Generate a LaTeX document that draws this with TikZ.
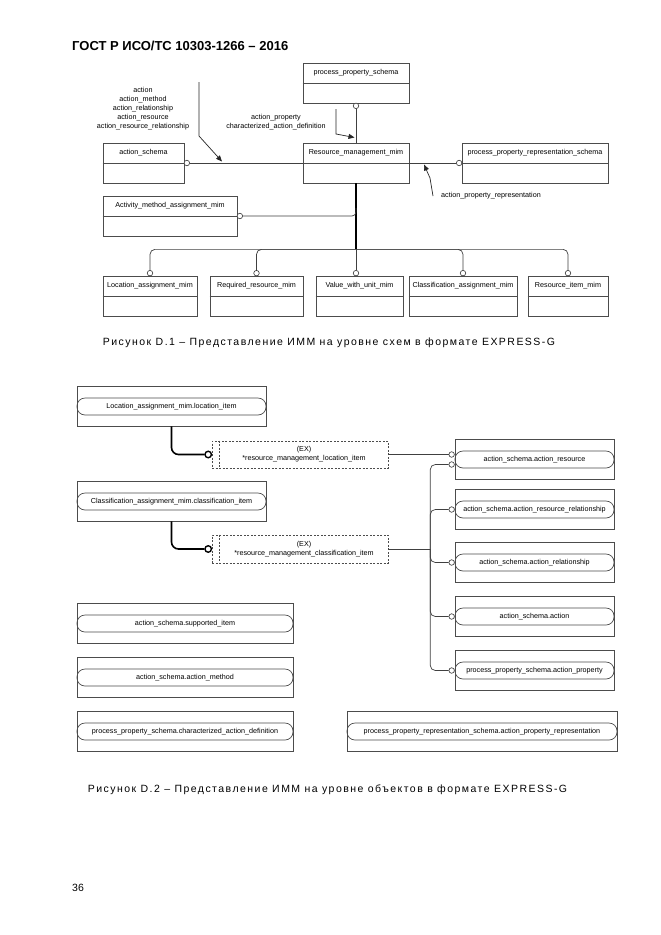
\documentclass[tikz,border=0pt]{standalone}
\usepackage{fontspec}
\setmainfont{Liberation Sans}
\newfontfamily\capfont[LetterSpace=14]{Liberation Sans}
\usetikzlibrary{fit,arrows.meta,calc}
\tikzset{
  lbl/.style={font=\fontsize{7.2}{9}\selectfont, inner sep=0},
  ebox/.style={draw=black!70, line width=0.7pt, inner sep=0},
  pill/.style={draw=black!70, line width=0.7pt, inner sep=0, rounded corners=8pt},
  exbox/.style={draw=black!70, dash pattern=on 2pt off 1.5pt, line width=0.6pt, inner sep=0},
  conn/.style={draw=black!75, line width=0.7pt},
  thk/.style={draw=black, line width=1.6pt},
  oc/.style={circle, draw=black!80, fill=white, line width=0.6pt, inner sep=0, minimum size=5.5pt},
  ocb/.style={circle, draw=black, fill=white, line width=1.4pt, inner sep=0, minimum size=6.5pt},
  ann/.style={draw=black!85, line width=0.7pt, -{Triangle[length=6pt,width=5pt]}},
  captxt/.style={font=\capfont\fontsize{10.5}{12}\selectfont, inner sep=0},
}
\newcommand\EBox[6]{%
  \node[ebox, fit={(#2,#3) (#4,#5)}] (#1) {};
  \draw[ebox] (#1.west) -- (#1.east);
  \node[lbl] (#1-t) at ($(#1.north)!0.5!(#1.center)$) {#6};}
\newcommand\OBox[6]{%
  \node[ebox, fit={(#2,#3) (#4,#5)}] (#1) {};
  \node[pill, fit={($(#2,#3)+(0,12)$) ($(#4,#3)+(0,29)$)}] (#1-p) {};
  \node[lbl] (#1-t) at (#1-p.center) {#6};}
\begin{document}
\begin{tikzpicture}[x=1pt,y=-1pt]
\useasboundingbox[fill=white] (0,0) rectangle (661,935);
% header
\node[anchor=west, font=\bfseries\fontsize{13}{15}\selectfont, inner sep=0] (hdr) at (72,46) {ГОСТ Р ИСО/ТС 10303-1266 – 2016};
% ===== Figure D.1
\EBox{pps}{303}{63}{409}{103}{process\_property\_schema}
\EBox{rm}{303}{143}{409}{183}{Resource\_management\_mim}
\EBox{pprs}{462}{143}{608}{183}{process\_property\_representation\_schema}
\EBox{as}{103}{143}{184}{183}{action\_schema}
\EBox{ama}{103}{196}{237}{236}{Activity\_method\_assignment\_mim}
\EBox{lam}{103}{276}{197}{316}{Location\_assignment\_mim}
\EBox{rrm}{210}{276}{303}{316}{Required\_resource\_mim}
\EBox{vwu}{316}{276}{403}{316}{Value\_with\_unit\_mim}
\EBox{cam}{409}{276}{517}{316}{Classification\_assignment\_mim}
\EBox{rim}{528}{276}{608}{316}{Resource\_item\_mim}

\node[oc] (c-as) at ([xshift=2.5pt]as.east) {};
\draw[conn] (c-as) -- (rm.west);
\node[oc] (c-pps) at ([yshift=-2.5pt]pps.south) {};
\draw[conn] (c-pps) -- (rm.north);
\node[oc] (c-pprs) at ([xshift=-2.5pt]pprs.west) {};
\draw[conn] (rm.east) -- (c-pprs);

\coordinate (bus) at ($(rm.south)+(0,66)$);
\draw[thk] (rm.south) -- (bus);
\node[oc] (c-ama) at ([xshift=2.5pt]ama.east) {};
\draw[conn, rounded corners=4pt] (c-ama) -- (rm.south |- ama.east) -- ($(rm.south |- ama.east)+(0,-8)$);
\foreach \b in {lam,rrm,cam,rim}{
  \node[oc] (c-\b) at ([yshift=2.5pt]\b.north) {};
  \draw[conn, rounded corners=5pt] (bus) -- (bus -| c-\b) -- (c-\b);
}
\coordinate (vtop) at (rm.south |- vwu.north);
\node[oc] (c-vwu) at ([yshift=2.5pt]vtop) {};
\draw[conn] (bus) -- (c-vwu);

% annotations
\node[lbl, align=center] (t1) at (143,108.5) {action\\action\_method\\action\_relationship\\action\_resource\\action\_resource\_relationship};
\coordinate (a1s) at (199,82); \coordinate (a1m) at (199,136); \coordinate (a1e) at (222,161.5);
\draw[ann] (a1s) -- (a1m) -- (a1e);
\node[lbl, align=center] (t2) at (276,122) {action\_property\\characterized\_action\_definition};
\coordinate (a2s) at (336,109); \coordinate (a2m) at (336,134); \coordinate (a2e) at (354.5,137.5);
\draw[ann] (a2s) -- (a2m) -- (a2e);
\coordinate (a3s) at (433,196); \coordinate (a3m) at (430,178); \coordinate (a3e) at (424,164.5);
\draw[ann] (a3s) -- (a3m) -- (a3e);
\node[lbl, anchor=west] (t3) at (441,196) {action\_property\_representation};

\node[captxt] (cap1) at (329,343) {Рисунок D.1 –  Представление ИММ на уровне схем в формате EXPRESS-G};

% ===== Figure D.2
\OBox{lai}{77}{386}{266}{426}{Location\_assignment\_mim.location\_item}
\OBox{cai}{77}{481}{266}{521}{Classification\_assignment\_mim.classification\_item}
\node[exbox, fit={(212,441) (388,468)}] (ex1) {};
\draw[exbox] ($(ex1.north west)+(8,0)$) -- ($(ex1.south west)+(8,0)$);
\node[lbl, align=center] (ex1-t) at ($(ex1.center)+(4,0)$) {(EX)\\*resource\_management\_location\_item};
\node[exbox, fit={(212,535) (388,563)}] (ex2) {};
\draw[exbox] ($(ex2.north west)+(8,0)$) -- ($(ex2.south west)+(8,0)$);
\node[lbl, align=center] (ex2-t) at ($(ex2.center)+(4,0)$) {(EX)\\*resource\_management\_classification\_item};

\node[ocb] (c-ex1) at ([xshift=-3.5pt]ex1.west) {};
\draw[thk, rounded corners=7pt] (lai.south) -- (lai.south |- c-ex1) -- (c-ex1);
\node[ocb] (c-ex2) at ([xshift=-3.5pt]ex2.west) {};
\draw[thk, rounded corners=7pt] (cai.south) -- (cai.south |- c-ex2) -- (c-ex2);

\OBox{r1}{455}{439}{614}{479}{action\_schema.action\_resource}
\OBox{r2}{455}{489}{614}{529}{action\_schema.action\_resource\_relationship}
\OBox{r3}{455}{542}{614}{582}{action\_schema.action\_relationship}
\OBox{r4}{455}{596}{614}{636}{action\_schema.action}
\OBox{r5}{455}{650}{614}{690}{process\_property\_schema.action\_property}

\node[oc] (c-r1a) at ($(r1-p.west)+(-3,-5)$) {};
\node[oc] (c-r1b) at ($(r1-p.west)+(-3,5)$) {};
\foreach \r in {r2,r3,r4,r5}{\node[oc] (c-\r) at ($(\r-p.west)+(-3,0)$) {};}
\draw[conn] (ex1.east) -- (c-r1a);
\coordinate (j2) at ($(ex2.east)+(42,0)$);
\draw[conn] (ex2.east) -- (j2);
\foreach \c in {c-r1b,c-r2,c-r3,c-r4,c-r5}{
  \draw[conn, rounded corners=5pt] (\c) -- (\c -| j2) -- (j2);
}

\OBox{si}{77}{603}{293}{643}{action\_schema.supported\_item}
\OBox{am}{77}{657}{293}{697}{action\_schema.action\_method}
\OBox{cad}{77}{711}{293}{751}{process\_property\_schema.characterized\_action\_definition}
\OBox{apr}{347}{711}{617}{751}{process\_property\_representation\_schema.action\_property\_representation}

\node[captxt] (cap2) at (327.5,790) {Рисунок D.2 –  Представление ИММ на уровне объектов в формате EXPRESS-G};

\node[anchor=west, font=\fontsize{10.5}{12}\selectfont, inner sep=0] (pg) at (72,888) {36};
\end{tikzpicture}
\end{document}
